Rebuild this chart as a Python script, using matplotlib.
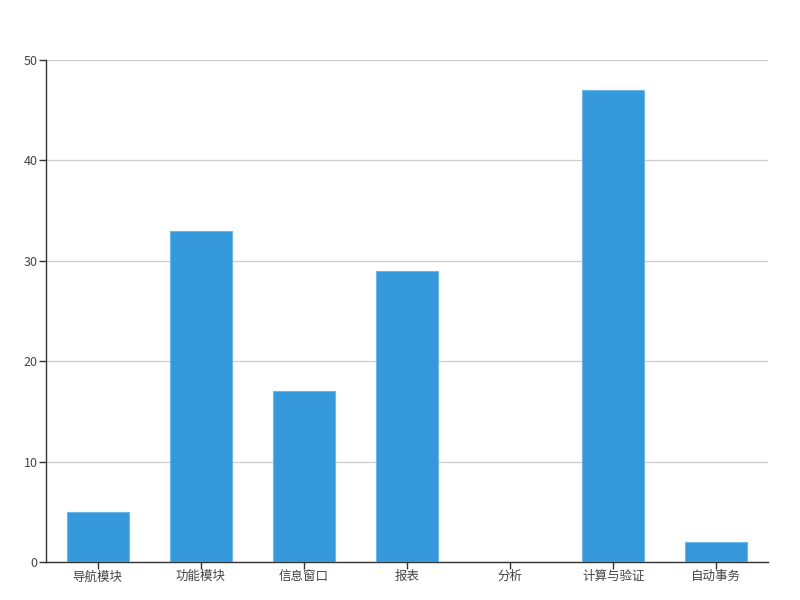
import matplotlib
matplotlib.use("Agg")
import matplotlib.pyplot as plt
import numpy as np

plt.rcParams['font.family'] = ['Noto Sans CJK SC', 'DejaVu Sans']

# data
categories = ['导航模块', '功能模块', '信息窗口', '报表', '分析', '计算与验证', '自动事务']
values = [5, 33, 17, 29, 0, 47, 2]
y_ticks = [0, 10, 20, 30, 40, 50]

fig = plt.figure(figsize=(8, 6), dpi=100)
ax = fig.add_axes([46 / 800, 1 - 562 / 600, (768 - 46) / 800, (562 - 60) / 600])

x = np.arange(len(categories))
ax.bar(x, values, width=0.6, color='#3498db', edgecolor='#6cb6e8', linewidth=0.8, zorder=3)

ax.set_xlim(-0.5, len(categories) - 0.5)
ax.set_ylim(0, 50)
ax.set_xticks(x)
ax.set_xticklabels(categories, fontsize=9, color='#444444')
ax.set_yticks(y_ticks)
ax.set_yticklabels([str(v) for v in y_ticks], fontsize=9, color='#444444')

ax.grid(axis='y', color='#cccccc', linewidth=0.9, zorder=0)
for s in ['top', 'right']:
    ax.spines[s].set_visible(False)
for s in ['left', 'bottom']:
    ax.spines[s].set_color('#333333')
    ax.spines[s].set_linewidth(1)
ax.tick_params(axis='both', length=5, width=1, color='#333333', pad=1)

fig.savefig('out.png', dpi=100)
